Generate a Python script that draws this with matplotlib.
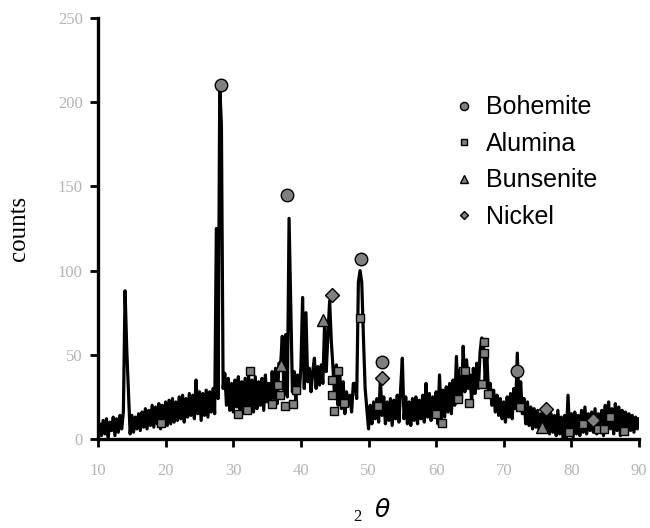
import numpy as np
import matplotlib
matplotlib.use("Agg")
import matplotlib.pyplot as plt

# XRD pattern, counts every 0.25 deg from 10 to 90
two_theta = np.arange(10.0, 90.01, 0.25)
counts = [
    4, 9, 2, 11,        # 10
    3, 12, 1, 10,       # 11
    5, 13, 2, 12,       # 12
    4, 14, 6, 16,       # 13
    88, 53, 28, 3,      # 14
    14, 4, 13, 6,       # 15
    15, 5, 16, 7,       # 16
    18, 6, 17, 8,       # 17
    20, 7, 19, 9,       # 18
    21, 6, 20, 10,      # 19
    22, 8, 23, 9,       # 20
    24, 10, 22, 11,     # 21
    25, 12, 26, 10,     # 22
    24, 13, 27, 14,     # 23
    26, 12, 35, 15,     # 24
    28, 11, 27, 14,     # 25
    29, 13, 28, 16,     # 26
    30, 15, 125, 24,    # 27
    210, 186, 30, 39,   # 28
    20, 36, 17, 33,     # 29
    16, 35, 19, 37,     # 30
    15, 34, 18, 36,     # 31
    17, 39, 20, 35,     # 32
    16, 37, 18, 34,     # 33
    20, 36, 17, 38,     # 34
    22, 33, 19, 40,     # 35
    24, 42, 21, 45,     # 36
    44, 61, 26, 62,     # 37
    25, 131, 79, 28,    # 38
    40, 22, 38, 27,     # 39
    42, 84, 30, 75,     # 40
    34, 42, 28, 40,     # 41
    48, 30, 43, 32,     # 42
    44, 33, 68, 40,     # 43
    62, 82, 58, 42,     # 44
    24, 44, 20, 40,     # 45
    18, 34, 15, 28,     # 46
    20, 26, 16, 33,     # 47
    33, 24, 93, 100,    # 48
    93, 60, 30, 18,     # 49
    6, 20, 9, 22,       # 50
    12, 24, 10, 36,     # 51
    14, 25, 9, 22,      # 52
    11, 24, 8, 23,      # 53
    12, 26, 10, 30,     # 54
    48, 12, 25, 9,      # 55
    22, 8, 24, 11,      # 56
    25, 9, 23, 12,      # 57
    26, 10, 33, 13,     # 58
    27, 11, 25, 14,     # 59
    28, 9, 38, 12,      # 60
    29, 13, 31, 16,     # 61
    33, 15, 35, 20,     # 62
    49, 22, 41, 24,     # 63
    55, 28, 47, 30,     # 64
    38, 22, 42, 27,     # 65
    45, 30, 52, 60,     # 66
    58, 35, 50, 26,     # 67
    33, 20, 29, 16,     # 68
    26, 14, 24, 12,     # 69
    22, 10, 25, 13,     # 70
    27, 12, 30, 18,     # 71
    51, 20, 34, 15,     # 72
    24, 9, 22, 8,       # 73
    19, 6, 18, 7,       # 74
    17, 5, 15, 4,       # 75
    18, 6, 16, 3,       # 76
    15, 4, 14, 2,       # 77
    17, 3, 13, 1,       # 78
    14, 0, 26, 2,       # 79
    15, 1, 16, 3,       # 80
    14, 2, 17, 4,       # 81
    19, 3, 15, 5,       # 82
    16, 4, 18, 3,       # 83
    15, 5, 17, 2,       # 84
    20, 4, 22, 6,       # 85
    18, 3, 21, 5,       # 86
    19, 2, 17, 4,       # 87
    16, 3, 15, 5,       # 88
    14, 4, 13, 6,       # 89
    12,                 # 90
]

# phase markers (2theta, counts)
bohemite_x = [28.15, 37.96, 48.9, 51.97, 71.9]
bohemite_y = [210, 145, 107, 46, 40.5]
alumina_x = [19.27, 30.75, 32.0, 32.5, 35.7, 36.6, 36.9, 37.7, 38.9, 39.3,
             44.55, 44.55, 44.95, 45.5, 46.4, 48.75, 51.46, 60.0, 60.8, 63.2,
             63.9, 64.2, 64.9, 66.75, 67.1, 67.1, 67.7, 72.4, 79.6, 81.7,
             84.0, 84.85, 85.7, 87.85]
alumina_y = [9.3, 15, 17, 40.5, 21, 32, 26, 19.8, 21, 29,
             35, 26, 16.6, 40.5, 21.5, 71.6, 19.7, 15, 9.7, 23.6,
             40.4, 40.4, 21.5, 32.4, 57.7, 51, 26.5, 19, 4.3, 8.7,
             5.7, 5.7, 12.9, 4.9]
bunsenite_x = [37.07, 43.33, 75.6]
bunsenite_y = [44, 70.6, 7.3]
nickel_x = [44.66, 51.97, 76.3, 83.2]
nickel_y = [85.5, 36.4, 17.6, 11.3]

x_ticks = [10, 20, 30, 40, 50, 60, 70, 80, 90]
y_ticks = [0, 50, 100, 150, 200, 250]

fig = plt.figure(figsize=(6.5, 5.28), dpi=100)
ax = fig.add_axes([0.1508, 0.1686, 0.8323, 0.7973])

ax.plot(two_theta, counts, color='black', lw=2.3, zorder=2)

mk = dict(linestyle='none', mfc='#808080', mec='black', mew=1.0, zorder=3)
ax.plot(bohemite_x, bohemite_y, marker='o', ms=9, label='Bohemite', **mk)
ax.plot(alumina_x, alumina_y, marker='s', ms=6, label='Alumina', **mk)
ax.plot(bunsenite_x, bunsenite_y, marker='^', ms=8, label='Bunsenite', **mk)
ax.plot(nickel_x, nickel_y, marker='D', ms=7, label='Nickel', **mk)

ax.set_xlim(10, 90)
ax.set_ylim(0, 250)
ax.set_xticks(x_ticks)
ax.set_yticks(y_ticks)
for side in ['top', 'right']:
    ax.spines[side].set_visible(False)
for side in ['left', 'bottom']:
    ax.spines[side].set_linewidth(2.4)
ax.tick_params(direction='out', length=6, width=2, colors='black',
               labelcolor='#b4b4b4', labelsize=12)
ax.tick_params(axis='x', pad=11)
ax.tick_params(axis='y', pad=5)
for lbl in ax.get_xticklabels() + ax.get_yticklabels():
    lbl.set_family('Liberation Serif')

ax.set_ylabel('counts', family='Liberation Serif', fontsize=18, labelpad=20)

fig.text(357 / 650, 1 - 517 / 528, '2', family='Liberation Serif',
         fontsize=12, ha='center', va='center')
fig.text(382 / 650, 1 - 510 / 528, r'$\theta$', fontsize=18,
         ha='center', va='center')

leg = ax.legend(loc='upper left', bbox_to_anchor=(0.64, 0.84), frameon=False,
                fontsize=18, handlelength=0.8, handletextpad=0.45,
                labelspacing=0.5, markerscale=0.65, borderaxespad=0)
for t in leg.get_texts():
    t.set_family('Liberation Sans')

fig.savefig('out.png', dpi=100)
